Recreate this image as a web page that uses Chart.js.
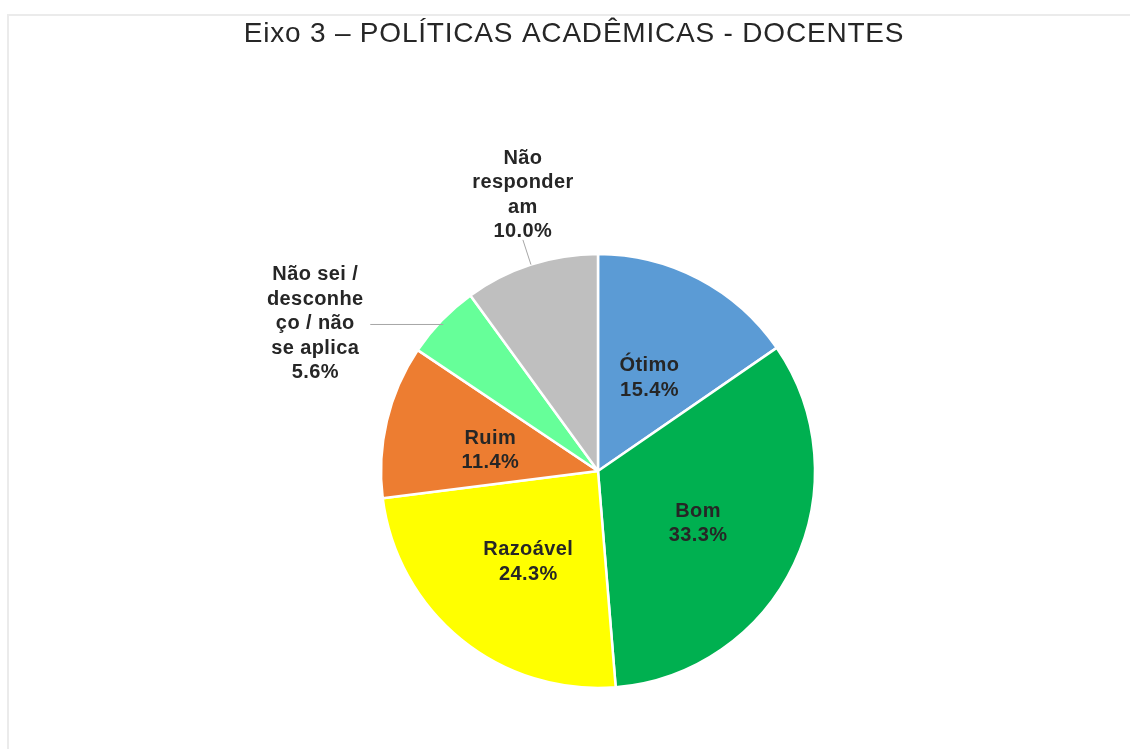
<!DOCTYPE html>
<html>
<head>
<meta charset="utf-8">
<script src="https://cdn.jsdelivr.net/npm/chart.js@4.4.1/dist/chart.umd.min.js"></script>
<style>
  html, body { margin: 0; padding: 0; background: #fff; }
  #wrap { position: relative; width: 1130px; height: 749px; overflow: hidden; }
  #frame { position: absolute; left: 7px; top: 14px; width: 1200px; height: 800px;
           border-left: 2px solid #ebebeb; border-top: 2px solid #ebebeb; }
  #chart { position: absolute; left: 0; top: 0; }
</style>
</head>
<body>
<div id="wrap">
  <div id="frame"></div>
  <canvas id="chart" width="1130" height="749"></canvas>
</div>
<script>
const chartTitle = 'Eixo 3 – POLÍTICAS ACADÊMICAS - DOCENTES'
const categories = ['Ótimo', 'Bom', 'Razoável', 'Ruim', 'Não sei / desconheço / não se aplica', 'Não responderam']
const values = [15.4, 33.3, 24.3, 11.4, 5.6, 10.0]
// wrapped label text as it shows on the picture
const labelLines = [
  ['Ótimo'],
  ['Bom'],
  ['Razoável'],
  ['Ruim'],
  ['Não sei /', 'desconhe', 'ço / não', 'se aplica'],
  ['Não', 'responder', 'am']
]
const colors = ['#5B9BD5', '#00B050', '#FFFF00', '#ED7D31', '#66FF99', '#BFBFBF']
const placement = ['inside', 'inside', 'inside', 'inside', 'left', 'top']

const lineHeight = 24.5

const labelPlugin = {
  id: 'sliceLabels',
  afterDatasetsDraw(chart) {
    const ctx = chart.ctx
    const meta = chart.getDatasetMeta(0)
    ctx.save()
    ctx.font = 'bold 20px "Liberation Sans", Arial, sans-serif'
    ctx.letterSpacing = '0.4px'
    ctx.fillStyle = '#262626'
    ctx.textAlign = 'center'
    ctx.textBaseline = 'middle'

    meta.data.forEach((arc, i) => {
      const { x, y, startAngle, endAngle, outerRadius } = arc.getProps(['x', 'y', 'startAngle', 'endAngle', 'outerRadius'], true)
      const mid = (startAngle + endAngle) / 2
      const dx = Math.cos(mid)
      const dy = Math.sin(mid)
      const lines = labelLines[i].concat([values[i].toFixed(1) + '%'])
      let cx, cy

      if (placement[i] === 'inside') {
        cx = x + dx * outerRadius * 0.51
        cy = y + dy * outerRadius * 0.51 + 5
      } else if (placement[i] === 'left') {
        const px = x + dx * outerRadius * 0.99
        const py = y + dy * outerRadius * 0.99 + 2
        ctx.strokeStyle = '#a6a6a6'
        ctx.lineWidth = 1
        ctx.beginPath()
        ctx.moveTo(px, py + 0.5)
        ctx.lineTo(px - 73, py + 0.5)
        ctx.stroke()
        cx = px - 128
        cy = py
      } else {
        const p0x = x + dx * outerRadius
        const p0y = y + dy * outerRadius
        const p1x = x + dx * (outerRadius + 26)
        const p1y = y + dy * (outerRadius + 26)
        ctx.strokeStyle = '#a6a6a6'
        ctx.lineWidth = 1
        ctx.beginPath()
        ctx.moveTo(p0x, p0y)
        ctx.lineTo(p1x, p1y)
        ctx.stroke()
        cx = p1x
        cy = p1y - 8 - (lines.length - 1) * lineHeight / 2
      }

      const top = cy - (lines.length - 1) * lineHeight / 2
      lines.forEach((t, k) => ctx.fillText(t, cx, top + k * lineHeight))
    })

    // chart title
    ctx.font = '28px "Liberation Sans", Arial, sans-serif'
    ctx.letterSpacing = '0.8px'
    ctx.fillStyle = '#262626'
    ctx.textBaseline = 'alphabetic'
    ctx.fillText(chartTitle, 574, 42)
    ctx.restore()
  }
}

new Chart(document.getElementById('chart'), {
  type: 'pie',
  data: {
    labels: categories,
    datasets: [{
      data: values,
      backgroundColor: colors,
      borderColor: '#ffffff',
      borderWidth: 2.5
    }]
  },
  options: {
    responsive: false,
    animation: false,
    radius: 217,
    layout: { padding: { left: 66, right: 0, top: 193, bottom: 0 } },
    plugins: {
      legend: { display: false },
      tooltip: { enabled: false }
    }
  },
  plugins: [labelPlugin]
})
</script>
</body>
</html>
